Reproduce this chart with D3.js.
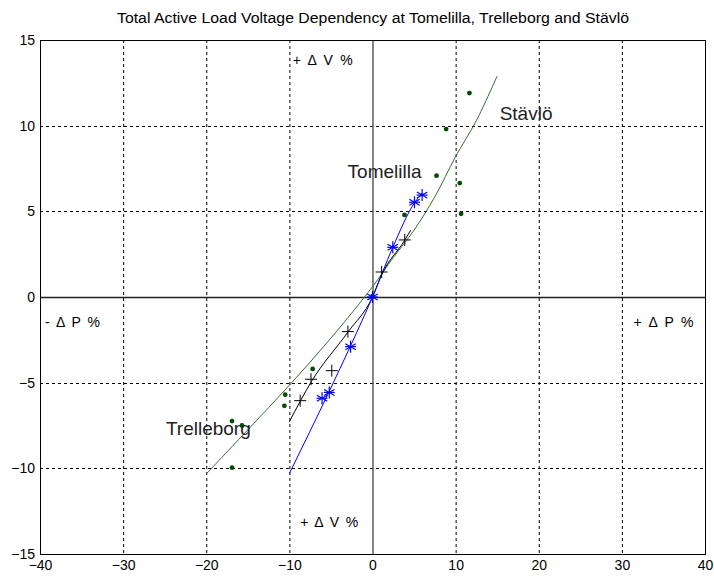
<!DOCTYPE html>
<html><head><meta charset="utf-8">
<script src="https://cdn.jsdelivr.net/npm/d3@7"></script>
<style>body{margin:0;background:#fff}svg{display:block;font-family:"Liberation Sans",Arial,sans-serif}</style>
</head><body><svg id="c" width="714" height="579"></svg>
<script>
const xTicks=[-40,-30,-20,-10,0,10,20,30,40];
const yTicks=[-15,-10,-5,0,5,10,15];
// Stävlö measured points and fitted curve
const stavloDots=[[11.66,11.9],[8.86,9.8],[7.7,7.08],[10.5,6.65],[10.66,4.86],[3.85,4.79],[0,0.05],[-7.2,-4.2],[-10.5,-5.7],[-10.6,-6.35],[-16.9,-7.24],[-15.7,-7.5],[-16.9,-9.96]];
const stavloFitX=[-20,-15,-10,-5,0,2.5,5,7.5,10,12.5,15];
const stavloFitY=[-10.33,-7.75,-5.15,-2.4,0.6,2.3,3.9,5.85,8.2,10.3,12.9];
// black + series
const crossPts=[[1.1,1.46],[3.88,3.33],[-2.96,-2.02],[-4.9,-4.3],[-7.4,-4.8],[-8.7,-6.05]];
const crossFitX=[-10,-7.37,-2.96,0,1.1,3.9,4.6];
const crossFitY=[-7.28,-4.95,-2.05,0,1.3,3.33,3.9];
// blue * series
const starPts=[[0,0],[2.44,2.9],[5.05,5.53],[5.97,5.95],[-2.64,-2.9],[-5.2,-5.57],[-6.07,-5.91]];
const starFitX=[-10,-5.2,-2.64,0,2.44,5.05,6.0];
const starFitY=[-10.3,-5.5,-2.85,0,2.9,5.5,6.08];
const axisNotes=[{t:"+ \u0394 V %",x:-9.6,y:13.55,w:60},{t:"- \u0394 P %",x:-39.4,y:-1.75,w:55},{t:"+ \u0394 P %",x:31.4,y:-1.75,w:60},{t:"+ \u0394 V %",x:-8.7,y:-13.45,w:58}];
const siteNames=[{t:"Stävlö",x:15.3,y:10.35},{t:"Tomelilla",x:-3,y:6.95},{t:"Trelleborg",x:-24.85,y:-8.05}];

const svg=d3.select("#c");
const L=40,R=705,T=40,B=554;
const x=d3.scaleLinear().domain([-40,40]).range([L,R]);
const y=d3.scaleLinear().domain([-15,15]).range([B,T]);

svg.append("text").attr("x",117).attr("y",23).attr("font-size",14).attr("textLength",512).attr("lengthAdjust","spacingAndGlyphs").text("Total Active Load Voltage Dependency at Tomelilla, Trelleborg and Stävlö");

const g=svg.append("g");
g.selectAll(".gx").data(xTicks.filter(d=>d>-40&&d<40&&d!==0)).join("line").attr("x1",d=>x(d)+0.5).attr("x2",d=>x(d)+0.5).attr("y1",T).attr("y2",B).attr("stroke","#000").attr("stroke-dasharray","3,3");
g.selectAll(".gy").data(yTicks.filter(d=>d>-15&&d<15&&d!==0)).join("line").attr("y1",d=>Math.round(y(d))+0.5).attr("y2",d=>Math.round(y(d))+0.5).attr("x1",L).attr("x2",R).attr("stroke","#000").attr("stroke-dasharray","3,3");
g.append("line").attr("x1",L).attr("x2",R).attr("y1",Math.round(y(0))+0.5).attr("y2",Math.round(y(0))+0.5).attr("stroke","#222").attr("stroke-width",1.3);
g.append("line").attr("x1",x(0)+0.5).attr("x2",x(0)+0.5).attr("y1",T).attr("y2",B).attr("stroke","#444").attr("stroke-width",1.3);
g.append("rect").attr("x",L+0.5).attr("y",T+0.5).attr("width",R-L).attr("height",B-T).attr("fill","none").attr("stroke","#000");

const styleTicks=s=>{s.select(".domain").remove();s.selectAll("text").attr("font-size",14).attr("font-family","Liberation Sans, Arial").attr("fill","#000");};
svg.append("g").attr("transform",`translate(0,${B})`).call(d3.axisBottom(x).tickValues(xTicks).tickSize(0).tickPadding(6)).call(styleTicks);
svg.append("g").attr("transform",`translate(${L},0)`).call(d3.axisLeft(y).tickValues(yTicks).tickSize(0).tickPadding(5)).call(styleTicks);

const mk=c=>d3.line().x(d=>x(d[0])).y(d=>y(d[1])).curve(c);
const zip=(a,b)=>a.map((v,i)=>[v,b[i]]);
svg.append("path").datum(zip(stavloFitX,stavloFitY)).attr("d",mk(d3.curveCatmullRom.alpha(0.5))).attr("fill","none").attr("stroke","#2f6f2f").attr("stroke-width",1);
svg.append("path").datum(zip(crossFitX,crossFitY)).attr("d",mk(d3.curveMonotoneX)).attr("fill","none").attr("stroke","#000").attr("stroke-width",1);
svg.append("path").datum(zip(starFitX,starFitY)).attr("d",mk(d3.curveMonotoneX)).attr("fill","none").attr("stroke","#0000ff").attr("stroke-width",1);

svg.selectAll(".dot").data(stavloDots).join("circle").attr("cx",d=>x(d[0])).attr("cy",d=>y(d[1])).attr("r",2.4).attr("fill","#004d00");
const cr=svg.selectAll(".cr").data(crossPts).join("g").attr("transform",d=>`translate(${x(d[0])},${y(d[1])})`);
cr.append("line").attr("x1",-6).attr("x2",6).attr("stroke","#000");
cr.append("line").attr("y1",-6).attr("y2",6).attr("stroke","#000");
const st=svg.selectAll(".st").data(starPts).join("g").attr("transform",d=>`translate(${x(d[0])},${y(d[1])})`);
[0,60,120].forEach(a=>st.append("line").attr("y1",-6).attr("y2",6).attr("transform",`rotate(${a})`).attr("stroke","#0000ff").attr("stroke-width",1.2));
st.append("line").attr("x1",-5.5).attr("x2",5.5).attr("stroke","#0000ff").attr("stroke-width",1.2);

svg.selectAll(".an").data(axisNotes).join("text").attr("x",d=>x(d.x)).attr("y",d=>y(d.y)).attr("font-size",14).attr("textLength",d=>d.w).attr("lengthAdjust","spacing").text(d=>d.t);
svg.selectAll(".sn").data(siteNames).join("text").attr("x",d=>x(d.x)).attr("y",d=>y(d.y)).attr("font-size",19).attr("fill","#222").text(d=>d.t);
</script></body></html>
